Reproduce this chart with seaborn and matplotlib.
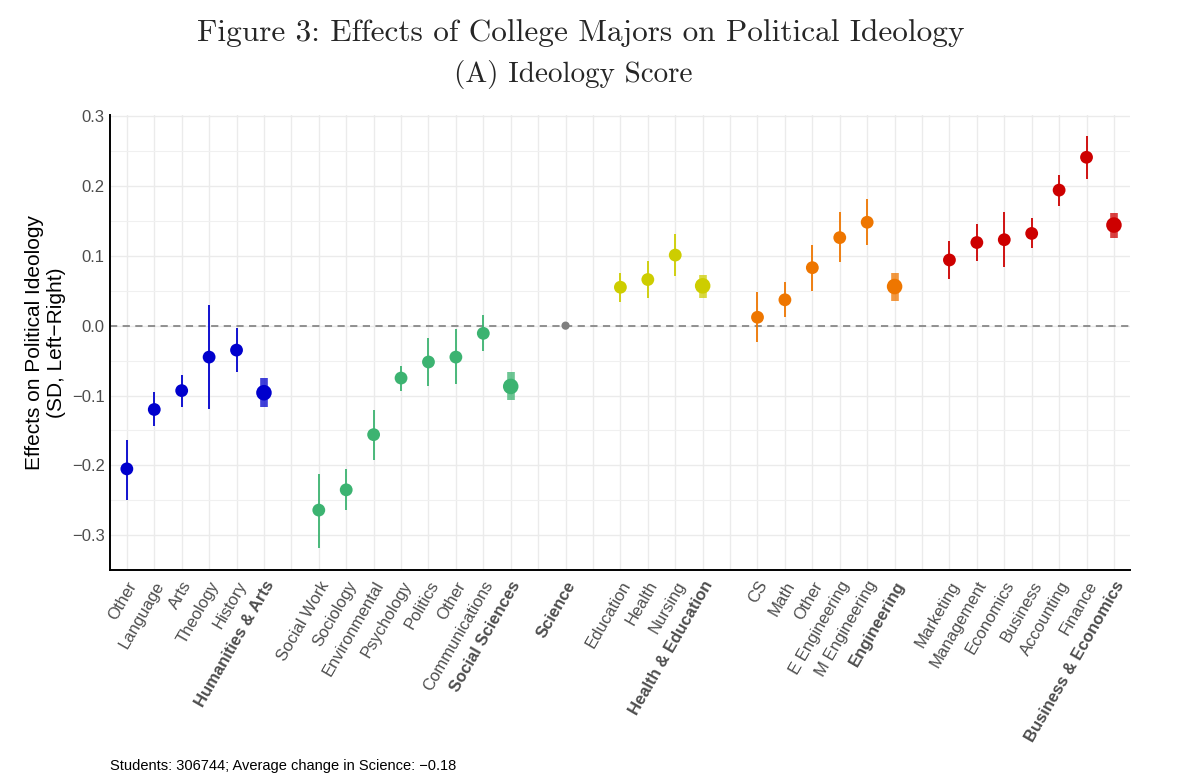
import numpy as np
import pandas as pd
import matplotlib
matplotlib.use("Agg")
import matplotlib.pyplot as plt
import seaborn as sns

# majors, grouped; the last entry of each group is the group average
hum_labels = ["Other", "Language", "Arts", "Theology", "History", "Humanities & Arts"]
hum_est = [-0.205, -0.120, -0.093, -0.045, -0.035, -0.096]
hum_lo = [-0.249, -0.144, -0.117, -0.120, -0.067, -0.117]
hum_hi = [-0.163, -0.095, -0.070, 0.030, -0.003, -0.075]

soc_labels = ["Social Work", "Sociology", "Environmental", "Psychology", "Politics",
              "Other", "Communications", "Social Sciences"]
soc_est = [-0.264, -0.235, -0.156, -0.075, -0.052, -0.045, -0.011, -0.087]
soc_lo = [-0.318, -0.264, -0.193, -0.093, -0.086, -0.084, -0.036, -0.107]
soc_hi = [-0.212, -0.205, -0.121, -0.058, -0.017, -0.005, 0.015, -0.067]

sci_labels = ["Science"]
sci_est = [0.0]
sci_lo = [0.0]
sci_hi = [0.0]

hed_labels = ["Education", "Health", "Nursing", "Health & Education"]
hed_est = [0.055, 0.066, 0.101, 0.057]
hed_lo = [0.034, 0.040, 0.071, 0.040]
hed_hi = [0.076, 0.092, 0.131, 0.073]

eng_labels = ["CS", "Math", "Other", "E Engineering", "M Engineering", "Engineering"]
eng_est = [0.012, 0.037, 0.083, 0.126, 0.148, 0.056]
eng_lo = [-0.024, 0.012, 0.049, 0.091, 0.115, 0.036]
eng_hi = [0.048, 0.063, 0.115, 0.162, 0.181, 0.075]

bus_labels = ["Marketing", "Management", "Economics", "Business", "Accounting",
              "Finance", "Business & Economics"]
bus_est = [0.094, 0.119, 0.123, 0.132, 0.194, 0.241, 0.144]
bus_lo = [0.067, 0.092, 0.084, 0.111, 0.171, 0.210, 0.126]
bus_hi = [0.121, 0.146, 0.163, 0.154, 0.215, 0.272, 0.161]

groups = [
    ("Humanities & Arts", "#0000CD", hum_labels, hum_est, hum_lo, hum_hi),
    ("Social Sciences", "#3CB371", soc_labels, soc_est, soc_lo, soc_hi),
    ("Science", "#7F7F7F", sci_labels, sci_est, sci_lo, sci_hi),
    ("Health & Education", "#CDCD00", hed_labels, hed_est, hed_lo, hed_hi),
    ("Engineering", "#EE7600", eng_labels, eng_est, eng_lo, eng_hi),
    ("Business & Economics", "#CD0000", bus_labels, bus_est, bus_lo, bus_hi),
]

rows = []
tick_labels = []
pos = 0
for gname, col, labs, est, lo, hi in groups:
    for i, lab in enumerate(labs):
        rows.append(dict(x=pos, label=lab, est=est[i], lo=lo[i], hi=hi[i],
                         group=gname, agg=(i == len(labs) - 1)))
        tick_labels.append(lab)
        pos += 1
    tick_labels.append("")  # empty slot between groups
    pos += 1
tick_labels = tick_labels[:-1]
df = pd.DataFrame(rows)
pal = {g[0]: g[1] for g in groups}

sns.set_theme(style="whitegrid")
plt.rcParams["font.family"] = ["Liberation Sans", "DejaVu Sans"]

fig, ax = plt.subplots(figsize=(12, 7.8), dpi=100)
fig.subplots_adjust(left=0.092, right=0.942, bottom=0.269, top=0.853)

ax.axhline(0, color="#888888", lw=1.3, ls=(0, (4, 3)), zorder=1)

single = df[~df["agg"]]
agg = df[df["agg"] & (df["group"] != "Science")]
sci = df[df["group"] == "Science"]

for _, r in single.iterrows():
    ax.vlines(r.x, r.lo, r.hi, color=pal[r.group], lw=1.3, zorder=2)
for _, r in agg.iterrows():
    ax.vlines(r.x, r.lo, r.hi, color=pal[r.group], lw=5.5, alpha=0.75, zorder=2)

sns.scatterplot(data=single, x="x", y="est", hue="group", palette=pal, s=85,
                edgecolor="none", legend=False, ax=ax, zorder=3)
sns.scatterplot(data=agg, x="x", y="est", hue="group", palette=pal, s=125,
                edgecolor="none", legend=False, ax=ax, zorder=3)
sns.scatterplot(data=sci, x="x", y="est", color="#7F7F7F", s=35,
                edgecolor="none", legend=False, ax=ax, zorder=3)

ax.set_xlim(-0.6, len(tick_labels) - 0.4)
ax.set_ylim(-0.345, 0.302)
ax.set_xticks(range(len(tick_labels)))
ax.set_xticklabels(tick_labels, rotation=60, ha="right", rotation_mode="anchor",
                   fontsize=12, color="#4D4D4D")
bold = set(g[0] for g in groups)
for t in ax.get_xticklabels():
    if t.get_text() in bold:
        t.set_fontweight("bold")
ax.set_yticks([-0.3, -0.2, -0.1, 0.0, 0.1, 0.2, 0.3])
ax.set_yticklabels(["\u22120.3", "\u22120.2", "\u22120.1", "0.0", "0.1", "0.2", "0.3"],
                   fontsize=12, color="#4D4D4D")
ax.set_yticks(np.arange(-0.35, 0.31, 0.1), minor=True)
ax.tick_params(axis="both", length=0, pad=4)
ax.tick_params(axis="x", pad=6)

ax.grid(True, which="major", color="#EBEBEB", lw=1.0)
ax.grid(True, which="minor", axis="y", color="#F0F0F0", lw=0.8)
for s in ["top", "right"]:
    ax.spines[s].set_visible(False)
for s in ["left", "bottom"]:
    ax.spines[s].set_color("black")
    ax.spines[s].set_linewidth(1.4)

ax.set_xlabel("")
ax.set_ylabel("Effects on Political Ideology\n(SD, Left\u2212Right)", fontsize=15,
              color="black", labelpad=4)

fig.text(0.484, 0.958, "Figure 3: Effects of College Majors on Political Ideology",
         ha="center", va="center", fontsize=22.5, family="cmr10")
fig.text(0.478, 0.905, "(A) Ideology Score", ha="center", va="center",
         fontsize=21, family="cmr10")
fig.text(0.092, 0.018, "Students: 306744; Average change in Science: \u22120.18",
         ha="left", va="center", fontsize=10.5, color="black")

fig.savefig("out.png", dpi=100)
